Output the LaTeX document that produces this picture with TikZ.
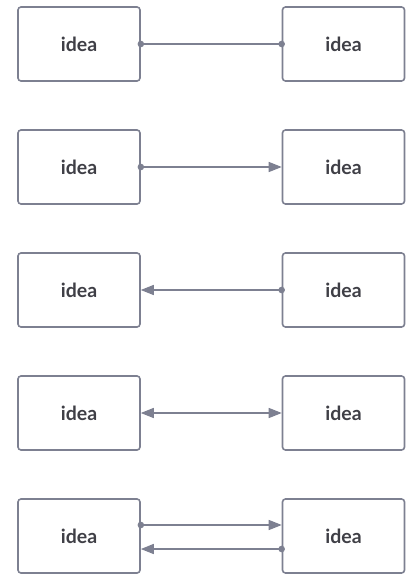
\documentclass[tikz,border=0pt]{standalone}
\usepackage{fontspec}
\setmainfont{Lato}
\usetikzlibrary{arrows.meta}
\definecolor{linegray}{HTML}{7D8091}
\definecolor{textgray}{HTML}{3F3F46}
\begin{document}
\begin{tikzpicture}[x=1pt,y=-1pt,
  ideabox/.style={draw=linegray, line width=1.6pt, rounded corners=3pt, minimum width=122pt, minimum height=74pt, inner sep=0pt, font=\bfseries\fontsize{19.5}{22}\selectfont, text=textgray},
  conn/.style={draw=linegray, line width=1.3pt},
  dot/.tip={Circle[length=6.5pt, sep=-3.2pt]},
  head/.tip={Triangle[length=13pt,width=10pt]},
]
\useasboundingbox (0,0) rectangle (418,588);
\foreach \i/\y in {1/44,2/167,3/290,4/413,5/536}{
  \node[ideabox] (L\i) at (79,\y) {idea};
  \node[ideabox] (R\i) at (343.5,\y) {idea};
}
% row 1
\draw[conn, dot-dot] (L1.east) -- (R1.west);
% row 2
\draw[conn, dot-head] (L2.east) -- (R2.west);
% row 3
\draw[conn, dot-head] (R3.west) -- (L3.east);
% row 4
\draw[conn, head-head] (L4.east) -- (R4.west);
% row 5
\coordinate (a1) at ([yshift=11pt]L5.east);
\coordinate (b1) at ([yshift=11pt]R5.west);
\coordinate (a2) at ([yshift=-13pt]R5.west);
\coordinate (b2) at ([yshift=-13pt]L5.east);
\draw[conn, dot-head] (a1) -- (b1);
\draw[conn, dot-head] (a2) -- (b2);
\end{tikzpicture}
\end{document}
